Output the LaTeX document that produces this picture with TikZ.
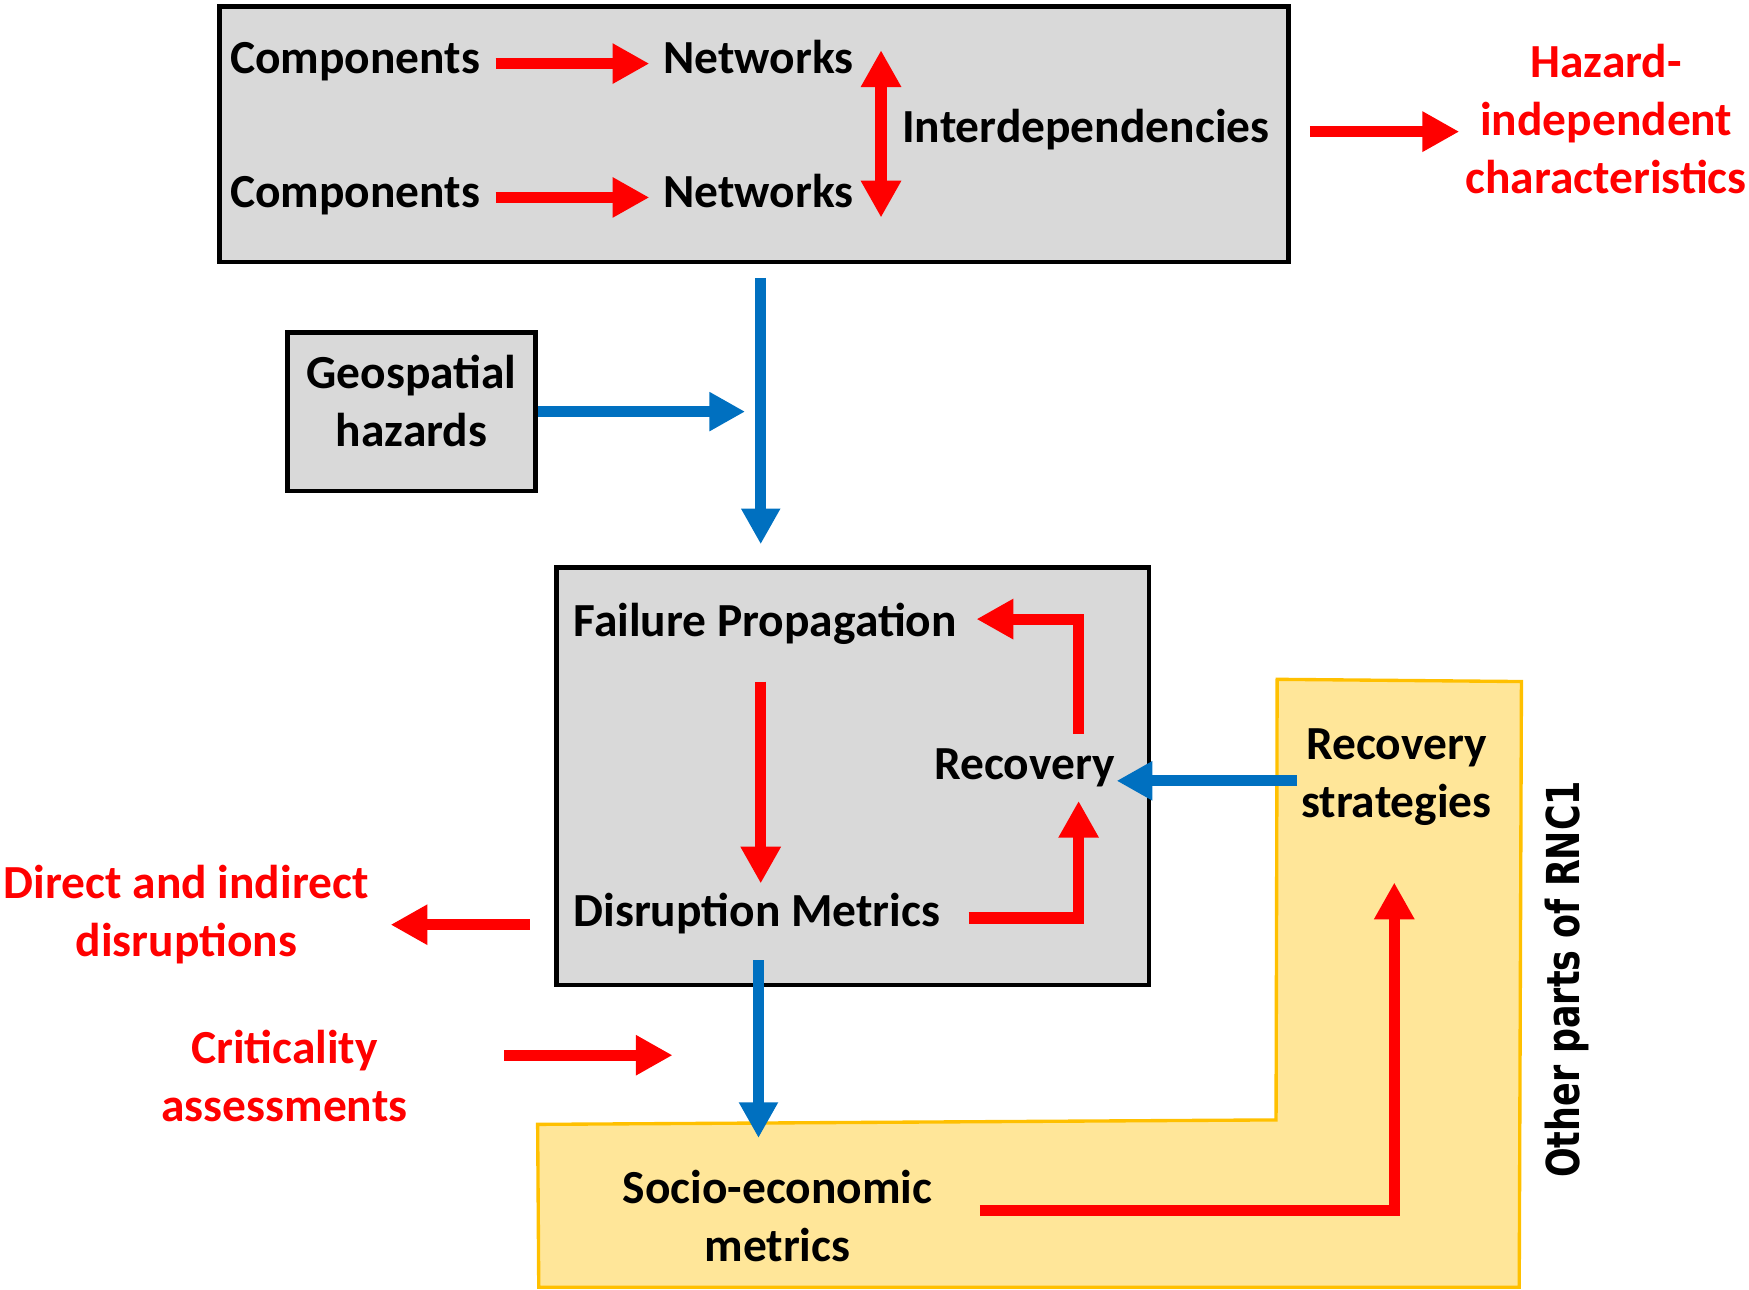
\documentclass[tikz,border=0pt]{standalone}
\usepackage{fontspec}
\setmainfont{Carlito}
\newfontfamily\rncfont{DejaVu Sans}
\usetikzlibrary{arrows.meta,calc}
\definecolor{boxgray}{HTML}{D9D9D9}
\definecolor{arrred}{HTML}{FF0000}
\definecolor{arrblue}{HTML}{0070C0}
\definecolor{yelfill}{HTML}{FFE699}
\definecolor{yeldraw}{HTML}{FFC000}
\begin{document}
\begin{tikzpicture}[x=0.01cm,y=-0.01cm]
	
		\tikzset{
		  lbl/.style={
			inner sep=0pt,
			font=\fontsize{12.1}{14.8}\selectfont\bfseries,
			text height=0.36cm,
			text depth=0.085cm,
		  },
		  mlbl/.style={
			inner sep=0pt,
			align=center,
			font=\fontsize{12.1}{14.8}\selectfont\bfseries,
		  },
		  graybox/.style={draw=black, line width=0.04cm, fill=boxgray, inner sep=0pt},
		  redarr/.style={draw=arrred, line width=0.1cm, -{Triangle[length=0.33cm,width=0.34cm]}},
		  dblarr/.style={draw=arrred, line width=0.1cm, {Triangle[length=0.33cm,width=0.34cm]}-{Triangle[length=0.33cm,width=0.34cm]}},
		  bluearr/.style={draw=arrblue, line width=0.1cm, -{Triangle[length=0.32cm,width=0.33cm]}},
		}
		\useasboundingbox (0,0) rectangle (1568,1156);
		\node[graybox, minimum width=9.58cm, minimum height=2.29cm] (topbox) at (676,120.5) {};
		\node[graybox, minimum width=5.31cm, minimum height=3.74cm] (midbox) at (764.5,696) {};
		\node[graybox, mlbl, minimum width=2.22cm, minimum height=1.42cm] (geo) at (369,369) {Geospatial\\hazards\rule[-0.19cm]{0pt}{0pt}};
		\draw[draw=yeldraw, fill=yelfill, line width=0.03cm] (1145,609) -- (1364,611) -- (1362,1154) -- (483,1154) -- (482,1008) -- (1144,1004) -- cycle;
		\node[lbl] (comp1) at (318.5,52) {Components};
		\node[lbl] (comp2) at (318.5,172) {Components};
		\node[lbl] (net1) at (680,52) {Networks};
		\node[lbl] (net2) at (680,172) {Networks};
		\node[lbl] (inter) at (973.5,114) {Interdependencies};
		\node[mlbl, text=arrred] (hic) at (1440,107) {Hazard-\\independent\\characteristics};
		\node[lbl] (fail) at (686,557) {Failure Propagation};
		\node[lbl] (disr) at (678.5,817) {Disruption Metrics};
		\node[lbl] (recov) at (918.5,685) {Recovery};
		\node[mlbl] (recstr) at (1252,697) {Recovery\\strategies};
		\node[mlbl] (socio) at (697,1090) {Socio-economic\\metrics};
		\node[mlbl, text=arrred] (direct) at (167,820) {Direct and indirect\\disruptions};
		\node[mlbl, text=arrred] (crit) at (255,965) {Criticality\\assessments};
		\node[rotate=90, yscale=1.3, inner sep=0pt, font=\rncfont\bfseries\fontsize{8.9}{10}\selectfont] (other) at (1405,878) {Other parts of RNC1};
		\coordinate (hz) at (682,369);
		\coordinate (rc) at (967,685);
		\coordinate (critend) at (603,946);
		\draw[redarr] ($(comp1.east)+(13,5)$) -- ($(net1.west)+(-12,5)$);
		\draw[redarr] ($(comp2.east)+(13,5)$) -- ($(net2.west)+(-12,5)$);
		\draw[dblarr] ($(net1.east)+(24,-7)$) -- ($(net2.east)+(24,23)$);
		\draw[redarr] ($(topbox.east)+(17,-2.5)$) -- ($(topbox.east -| hic.west)+(-5,-2.5)$);
		\draw[bluearr] ($(topbox.south -| hz)+(0,12)$) -- ($(midbox.north -| hz)+(0,-19)$);
		\draw[bluearr] (geo.east) -- ($(hz)+(-14,0)$);
		\draw[redarr] ($(fail.south -| hz)+(0,31)$) -- ($(disr.north -| hz)+(0,-2)$);
		\draw[redarr] ($(disr.east)+(25,6)$) -| ($(rc)+(0,33)$);
		\draw[redarr] ($(rc)+(0,-27)$) |- ($(fail.east)+(17,-2)$);
		\draw[bluearr] ($(recstr.west)+(-3,3)$) -- ($(recstr.west -| recov.east)+(1,3)$);
		\draw[bluearr] ($(disr.south)+(1.5,21)$) -- ($(socio.north -| disr.south)+(1.5,-28)$);
		\draw[redarr] ($(socio.east)+(42,-5)$) -| ($(recstr.south)+(-2,50)$);
		\draw[redarr] ($(midbox.west |- direct.east)+(-22,9)$) -- ($(direct.east)+(19,9)$);
		\draw[redarr] ($(crit.east |- critend)+(86,0)$) -- (critend);
	
	\end{tikzpicture}
\end{document}
